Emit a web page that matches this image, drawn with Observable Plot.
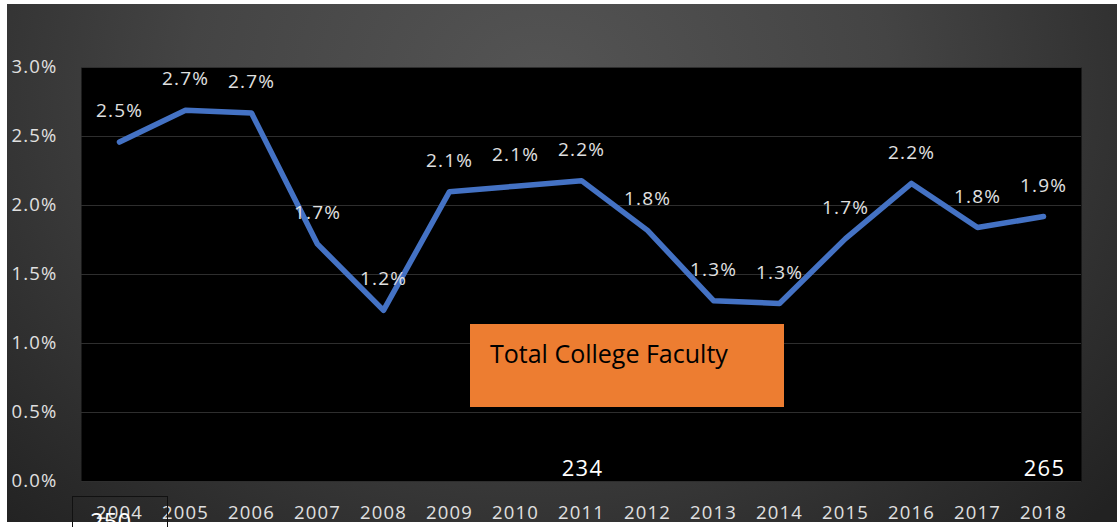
<!DOCTYPE html>
<html><head><meta charset="utf-8">
<script src="https://cdn.jsdelivr.net/npm/d3@7"></script>
<script src="https://cdn.jsdelivr.net/npm/@observablehq/plot@0.6"></script>
<style>
html,body{margin:0;padding:0;background:#fff;width:1117px;height:527px;overflow:hidden;position:relative;}
#bg{position:absolute;left:7px;top:4px;width:1110px;height:518px;
  background:radial-gradient(ellipse 70% 120% at 48% 15%, #545454 0%, #444 45%, #2e2e2e 80%, #222 100%);}
#chart{position:absolute;left:0;top:0;}
#chart svg text{letter-spacing:1.2px;}
.tbox{position:absolute;left:470px;top:324px;width:314px;height:83px;background:#ed7d31;
  font-family:"Open Sans";font-size:25px;color:#000;line-height:normal;box-sizing:border-box;padding:12px 0 0 20px;white-space:nowrap;}
.nbox{position:absolute;left:72px;top:496px;width:96px;height:40px;border:1px solid #111;box-sizing:border-box;}
.nbox span{position:absolute;left:17px;top:7px;font-family:"Open Sans";font-size:24px;color:#fff;}
</style>
</head><body>
<div id="bg"></div>
<div id="chart"></div>
<div class="tbox">Total College Faculty</div>
<div class="nbox"><span>250</span></div>
<script>
const years = ["2004","2005","2006","2007","2008","2009","2010","2011","2012","2013","2014","2015","2016","2017","2018"];
const values = [2.46, 2.69, 2.67, 1.72, 1.24, 2.10, 2.14, 2.18, 1.82, 1.31, 1.29, 1.76, 2.16, 1.84, 1.92];
const labels = ["2.5%","2.7%","2.7%","1.7%","1.2%","2.1%","2.1%","2.2%","1.8%","1.3%","1.3%","1.7%","2.2%","1.8%","1.9%"];
const yTicks = [0, 0.5, 1, 1.5, 2, 2.5, 3];
const extraYears = ["2011", "2018"];
const extraLabels = ["234", "265"];

const data = years.map((y, i) => ({year: y, value: values[i], label: labels[i]}));
const extra = extraYears.map((y, i) => ({year: y, value: 0, label: extraLabels[i]}));

const chart = Plot.plot({
  width: 1117, height: 527,
  marginLeft: 81, marginRight: 36, marginTop: 67, marginBottom: 46,
  style: {background: "transparent", fontFamily: "Open Sans", fontSize: "18px", color: "#e0e0e0"},
  x: {type: "point", domain: years, padding: 0.5, label: null},
  y: {domain: [0, 3], label: null},
  marks: [
    Plot.frame({fill: "black", stroke: null}),
    Plot.gridY(yTicks, {stroke: "#2e2e2e", strokeOpacity: 1, strokeWidth: 1.2}),
    Plot.axisY(yTicks, {tickSize: 0, tickPadding: 24, fontSize: 18.5, fill: "#e0e0e0", label: null, tickFormat: d => d.toFixed(1) + "%"}),
    Plot.axisX({tickSize: 0, tickPadding: 24, fontSize: 18.5, fill: "#e0e0e0", label: null}),
    Plot.line(data, {x: "year", y: "value", stroke: "#4472c4", strokeWidth: 5.5, strokeLinejoin: "round", strokeLinecap: "round"}),
    Plot.text(data, {x: "year", y: "value", text: "label", dy: -31, fill: "#e0e0e0", fontSize: 19}),
    Plot.text(extra, {x: "year", y: "value", text: "label", dx: 1, dy: -13, fill: "#ffffff", fontSize: 22})
  ]
});
document.getElementById("chart").appendChild(chart);
</script>
</body></html>
